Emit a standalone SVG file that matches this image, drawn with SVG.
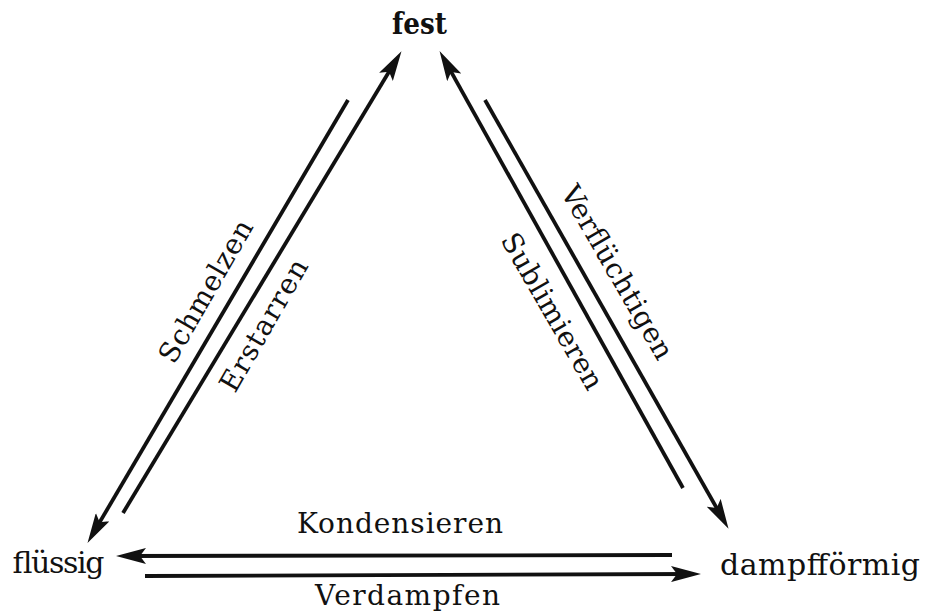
<svg xmlns="http://www.w3.org/2000/svg" width="925" height="613" viewBox="0 0 925 613">
<defs>
<style>
.lbl{font-family:"DejaVu Serif","Liberation Serif",serif;font-size:28px;fill:#111;}
.node{font-family:"DejaVu Serif","Liberation Serif",serif;font-size:30px;fill:#111;}
.ar{stroke:#111;stroke-width:3.8;fill:none;marker-end:url(#ah);}
</style>
<marker id="ah" viewBox="0 0 30 16" refX="19" refY="8" markerWidth="30" markerHeight="16" markerUnits="userSpaceOnUse" orient="auto">
<path d="M0,0 L30,8 L0,16 L6,8 Z" fill="#111"/>
</marker>
</defs>
<rect width="925" height="613" fill="#fff"/>
<g id="connectors">
<line class="ar" x1="348" y1="100" x2="93.1" y2="533.4"/>
<line class="ar" x1="123" y1="513" x2="395.8" y2="60.6"/>
<line class="ar" x1="683" y1="488" x2="444.9" y2="60.7"/>
<line class="ar" x1="485" y1="100" x2="723.1" y2="519.3"/>
<line class="ar" x1="672" y1="555" x2="127" y2="556"/>
<line class="ar" x1="145" y1="576" x2="690" y2="574"/>
</g>
<g id="labels">
<text class="lbl" text-anchor="middle" textLength="160" transform="translate(214,296) rotate(-60)">Schmelzen</text>
<text class="lbl" text-anchor="middle" textLength="148" transform="translate(272,330) rotate(-60)">Erstarren</text>
<text class="lbl" text-anchor="middle" textLength="196" transform="translate(609,277) rotate(60)">Verflüchtigen</text>
<text class="lbl" text-anchor="middle" textLength="176" transform="translate(544,316) rotate(60)">Sublimieren</text>
<text class="lbl" x="297" y="533" textLength="206">Kondensieren</text>
<text class="lbl" x="315" y="605" textLength="185">Verdampfen</text>
</g>
<g id="fest"><text class="node" x="392" y="34" font-weight="bold" textLength="55" lengthAdjust="spacingAndGlyphs">fest</text></g>
<g id="fluessig"><text class="node" x="11" y="573" textLength="92">flüssig</text></g>
<g id="dampffoermig"><text class="node" x="720" y="575" textLength="200">dampfförmig</text></g>
</svg>
